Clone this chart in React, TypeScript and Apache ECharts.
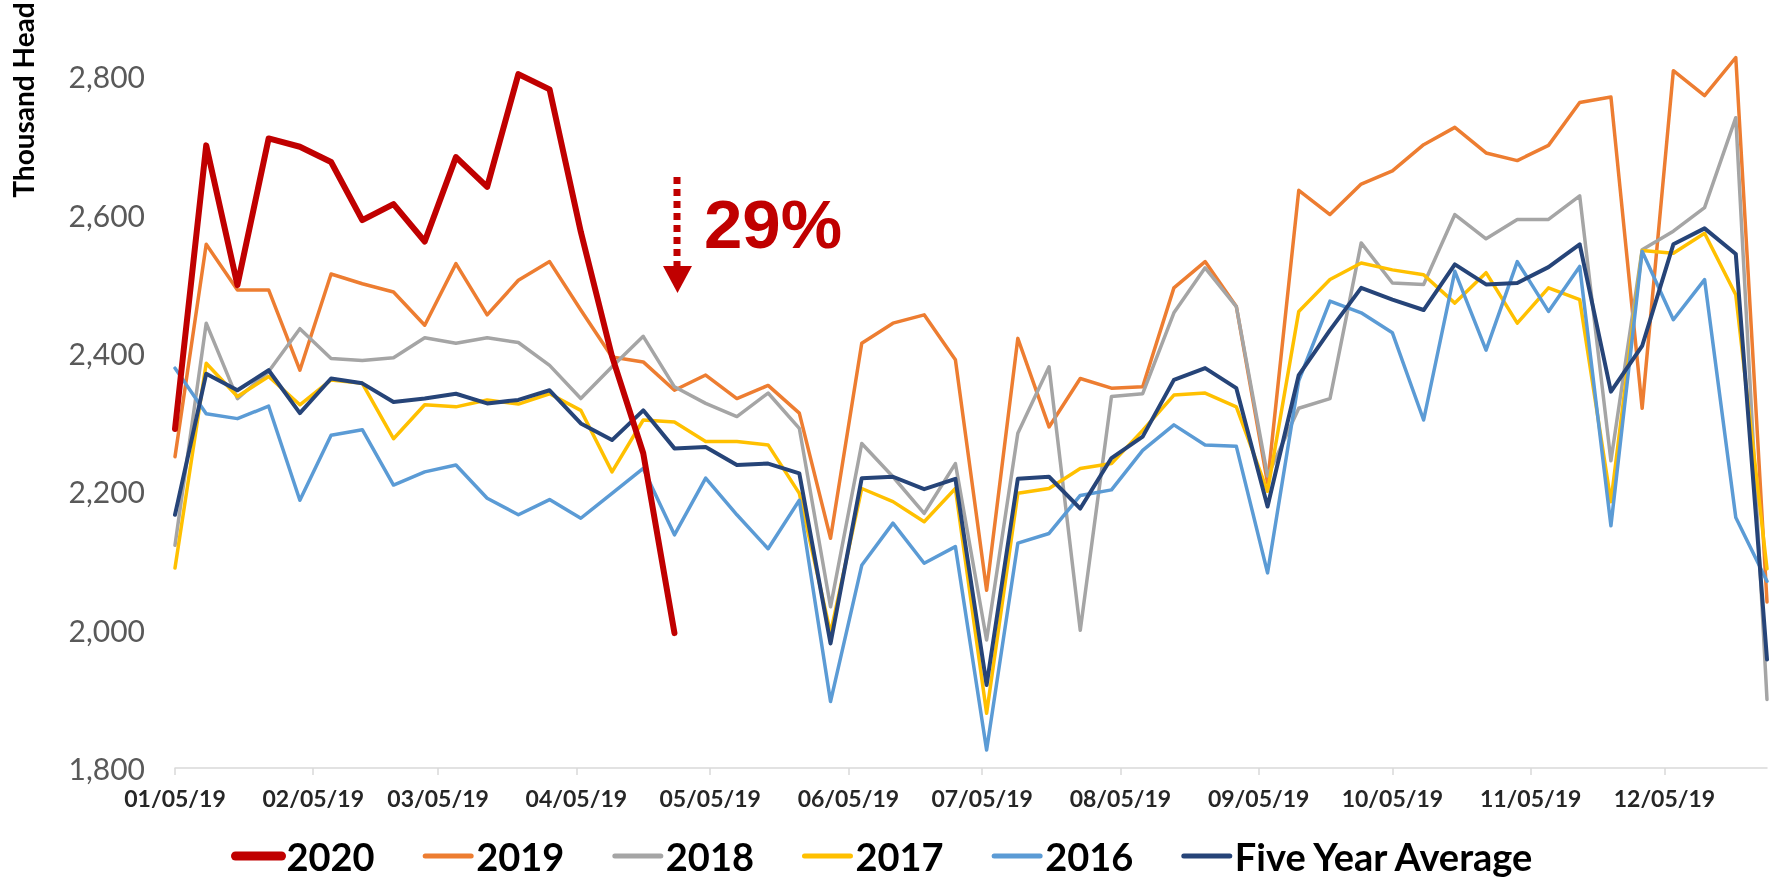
import React, { useEffect, useRef } from 'react';
import * as echarts from 'echarts';

// ---- Data ----
const startDate = '01/05/19';
const monthTickLabels = [
  '01/05/19', '02/05/19', '03/05/19', '04/05/19', '05/05/19', '06/05/19',
  '07/05/19', '08/05/19', '09/05/19', '10/05/19', '11/05/19', '12/05/19',
];
const seriesNames = ['2020', '2019', '2018', '2017', '2016', 'Five Year Average'];
const seriesColors = ['#C00000', '#ED7D31', '#A5A5A5', '#FFC000', '#5B9BD5', '#264478'];

const y2020 = [2290, 2700, 2498, 2710, 2698, 2676, 2592, 2615, 2561, 2683, 2640, 2803, 2781, 2575, 2395, 2255, 1995];
const y2019 = [2250, 2557, 2491, 2491, 2375, 2514, 2500, 2488, 2440, 2529, 2455, 2505, 2532, 2462, 2394, 2387, 2346, 2368, 2334, 2353,
  2313, 2132, 2414, 2443, 2455, 2390, 2057, 2421, 2293, 2363, 2349, 2351, 2494, 2532, 2467, 2212, 2635, 2600, 2644, 2663,
  2701, 2726, 2689, 2678, 2700, 2762, 2770, 2320, 2808, 2772, 2827, 2040];
const y2018 = [2122, 2443, 2334, 2373, 2435, 2392, 2389, 2393, 2422, 2414, 2422, 2415, 2382, 2334, 2380, 2424, 2351, 2327, 2308, 2342,
  2291, 2033, 2269, 2221, 2168, 2240, 1985, 2284, 2380, 1999, 2337, 2341, 2458, 2523, 2467, 2222, 2320, 2334, 2559, 2501,
  2499, 2600, 2565, 2593, 2593, 2627, 2244, 2549, 2576, 2610, 2740, 1899];
const y2017 = [2089, 2385, 2337, 2366, 2325, 2361, 2356, 2276, 2325, 2322, 2332, 2326, 2341, 2317, 2228, 2303, 2300, 2272, 2272, 2267,
  2197, 1995, 2204, 2185, 2156, 2204, 1879, 2197, 2204, 2233, 2240, 2288, 2339, 2342, 2322, 2200, 2460, 2506, 2530, 2520,
  2513, 2472, 2516, 2443, 2494, 2477, 2185, 2548, 2544, 2573, 2484, 2088];
const y2016 = [2378, 2312, 2305, 2323, 2187, 2281, 2289, 2209, 2228, 2238, 2190, 2166, 2188, 2161, 2197, 2233, 2137, 2219, 2166, 2117,
  2187, 1896, 2093, 2154, 2096, 2120, 1826, 2125, 2139, 2194, 2202, 2259, 2296, 2267, 2265, 2082, 2360, 2475, 2458, 2429,
  2303, 2518, 2404, 2532, 2460, 2525, 2150, 2547, 2448, 2506, 2162, 2070];
const yAvg = [2166, 2370, 2346, 2375, 2313, 2363, 2356, 2329, 2334, 2341, 2327, 2332, 2346, 2298, 2274, 2317, 2262, 2264, 2238, 2240,
  2226, 1980, 2219, 2221, 2203, 2218, 1920, 2218, 2221, 2175, 2248, 2279, 2361, 2378, 2349, 2178, 2368, 2433, 2494, 2477,
  2462, 2528, 2499, 2501, 2524, 2557, 2344, 2410, 2557, 2580, 2543, 1957];

const seriesValues = [y2020, y2019, y2018, y2017, y2016, yAvg];
const lineWidths = [6, 3.5, 3.5, 3.5, 3.5, 4];
const legendWidths = [9, 5, 5, 5, 5, 5];

// date helpers (days since the first week)
function toUTC(label: string) {
  const [m, d, y] = label.split('/').map(Number);
  return Date.UTC(2000 + y, m - 1, d);
}
const DAY = 86400000;
const t0 = toUTC(startDate);
const tickDays = monthTickLabels.map((l) => Math.round((toUTC(l) - t0) / DAY));
const WEEK_DAYS = 7;
const lastDay = (y2019.length - 1) * WEEK_DAYS;

export default function App() {
  const ref = useRef<HTMLDivElement>(null);
  useEffect(() => {
    if (!ref.current) return;
    const chart = echarts.init(ref.current, undefined, { renderer: 'svg' });
    const series = seriesNames.map((name, k) => ({
      name,
      type: 'line',
      data: seriesValues[k].map((v, i) => [i * WEEK_DAYS, v]),
      showSymbol: false,
      symbol: 'none',
      z: k === 0 ? 5 : 2 + k * 0.1,
      lineStyle: { color: seriesColors[k], width: lineWidths[k], cap: 'round', join: 'round' },
      itemStyle: { color: seriesColors[k] },
    }));
    chart.setOption({
      animation: false,
      textStyle: { fontFamily: 'Lato' },
      grid: { left: 175, right: 4, top: 7, bottom: 112, containLabel: false },
      xAxis: {
        type: 'value',
        min: 0,
        max: lastDay,
        axisLine: { show: true, lineStyle: { color: '#D9D9D9', width: 1.5 } },
        axisTick: { show: true, customValues: tickDays, length: 7, lineStyle: { color: '#D9D9D9', width: 1.5 } },
        axisLabel: {
          customValues: tickDays,
          formatter: (v: number) => {
            const idx = tickDays.indexOf(Math.round(v));
            return idx >= 0 ? monthTickLabels[idx] : '';
          },
          fontFamily: 'Lato',
          fontWeight: 'bold',
          fontSize: 23,
          color: '#262626',
          margin: 18,
        },
        splitLine: { show: false },
      },
      yAxis: {
        type: 'value',
        min: 1800,
        max: 2900,
        interval: 200,
        axisLine: { show: false },
        axisTick: { show: false },
        splitLine: { show: false },
        axisLabel: {
          formatter: (v: number) => (v > 2800 ? '' : v.toLocaleString('en-US')),
          fontFamily: 'Lato',
          fontSize: 30,
          color: '#595959',
          margin: 30,
        },
      },
      legend: {
        data: seriesNames.map((name, k) => ({
          name,
          lineStyle: { width: legendWidths[k], color: seriesColors[k], cap: 'round' },
        })),
        left: 226,
        top: 832,
        itemWidth: 46,
        itemHeight: 24,
        itemGap: 48,
        itemStyle: { opacity: 0 },
        textStyle: { fontFamily: 'Lato', fontWeight: 'bold', fontSize: 38, color: '#000000' },
      },
      graphic: [
        {
          type: 'text',
          x: 23,
          y: 100,
          rotation: Math.PI / 2,
          style: {
            text: 'Thousand Head',
            fontFamily: 'Lato',
            fontWeight: 'bold',
            fontSize: 28,
            fill: '#000000',
            textAlign: 'center',
            textVerticalAlign: 'middle',
          },
        },
        {
          type: 'line',
          shape: { x1: 677, y1: 177, x2: 677, y2: 266 },
          style: { stroke: '#C00000', lineWidth: 7, lineDash: [7, 5] },
        },
        {
          type: 'polygon',
          shape: { points: [[663, 266], [692, 266], [677.5, 293]] },
          style: { fill: '#C00000' },
        },
        {
          type: 'text',
          x: 704,
          y: 224,
          style: {
            text: '29%',
            fontFamily: 'Liberation Sans',
            fontWeight: 'bold',
            fontSize: 69,
            fill: '#C00000',
            textAlign: 'left',
            textVerticalAlign: 'middle',
          },
        },
      ],
      series,
    });
    return () => chart.dispose();
  }, []);
  return <div ref={ref} style={{ position: 'fixed', left: 0, top: 0, width: 1771, height: 880 }} />;
}
